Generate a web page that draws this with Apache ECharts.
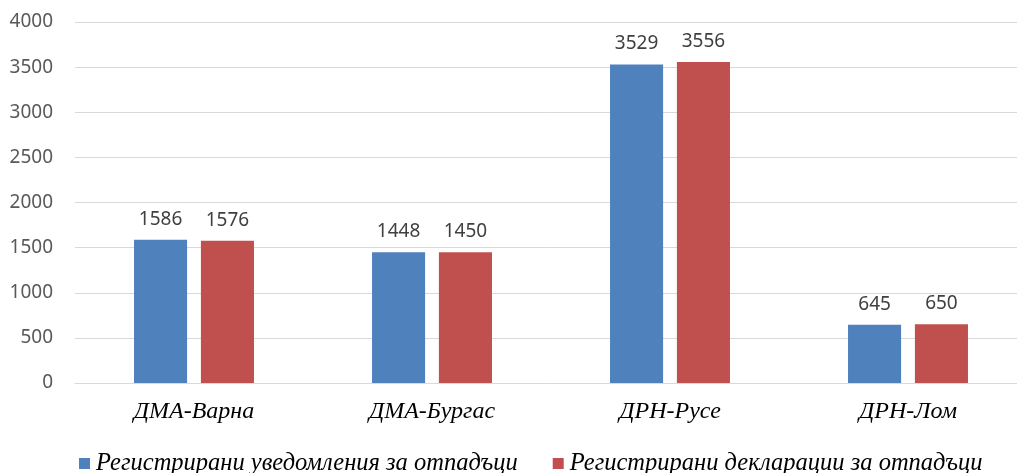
<!DOCTYPE html>
<html><head><meta charset="utf-8">
<script src="https://cdn.jsdelivr.net/npm/echarts@6/dist/echarts.min.js"></script>
<style>html,body{margin:0;padding:0;background:#fff}#c{width:1017px;height:473px}</style>
</head><body><div id="c"></div>
<script>
const categories = ['ДМА-Варна', 'ДМА-Бургас', 'ДРН-Русе', 'ДРН-Лом'];
const seriesNames = ['Регистрирани уведомления за отпадъци', 'Регистрирани декларации за отпадъци'];
const notifications = [1586, 1448, 3529, 645];
const declarations = [1576, 1450, 3556, 650];
const colors = ['#4F81BD', '#C0504D'];

const chart = echarts.init(document.getElementById('c'));
const labelStyle = {show: true, position: 'top', distance: 11, color: '#404040', fontFamily: 'Noto Sans', fontSize: 19};
chart.setOption({
  animation: false,
  color: colors,
  grid: {left: 75, width: 952, top: 22, height: 361, containLabel: false, outerBoundsMode: 'none'},
  legend: {
    top: 446, left: 74, itemWidth: 11, itemHeight: 11, itemGap: 35, icon: 'rect',
    textStyle: {fontFamily: 'Liberation Serif', fontStyle: 'italic', fontSize: 24.5, color: '#000', padding: [0, 0, 0, 1]},
    data: seriesNames
  },
  xAxis: {
    type: 'category', data: categories,
    axisLine: {show: true, lineStyle: {color: '#D9D9D9', width: 1}},
    axisTick: {show: false},
    axisLabel: {margin: 17, fontFamily: 'Liberation Serif', fontStyle: 'italic', fontSize: 24, color: '#000'}
  },
  yAxis: {
    type: 'value', min: 0, max: 4000, interval: 500,
    axisLine: {show: false}, axisTick: {show: false},
    splitLine: {lineStyle: {color: '#D9D9D9', width: 1}},
    axisLabel: {margin: 22, fontFamily: 'Noto Sans', fontSize: 19, color: '#595959', formatter: v => String(v)}
  },
  series: [
    {name: seriesNames[0], type: 'bar', data: notifications, barWidth: '22.3%', barGap: '26%', label: labelStyle},
    {name: seriesNames[1], type: 'bar', data: declarations, barWidth: '22.3%', barGap: '26%', label: labelStyle}
  ]
});
</script></body></html>
